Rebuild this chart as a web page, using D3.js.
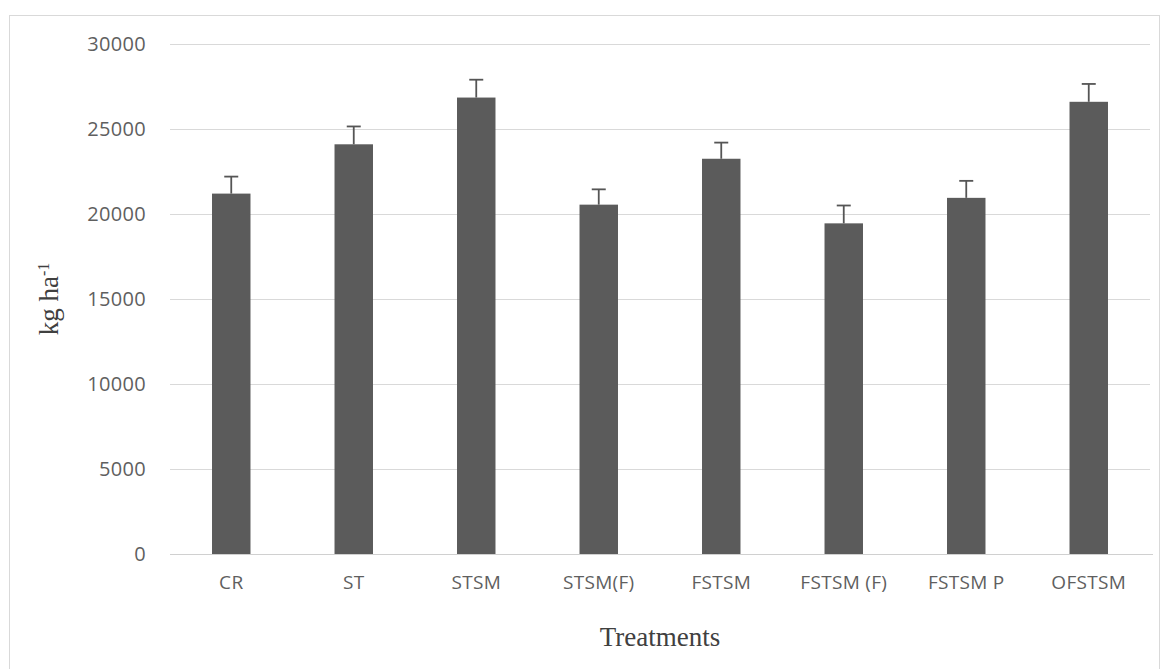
<!DOCTYPE html>
<html>
<head>
<meta charset="utf-8">
<script src="https://cdn.jsdelivr.net/npm/d3@7"></script>
<style>
  html, body { margin: 0; padding: 0; background: #fff; }
  svg { display: block; }
</style>
</head>
<body>
<svg id="chart" width="1167" height="669"></svg>
<script>
const categories = ["CR", "ST", "STSM", "STSM(F)", "FSTSM", "FSTSM (F)", "FSTSM P", "OFSTSM"];
const values = [21200, 24100, 26850, 20550, 23250, 19450, 20950, 26600];
const errors = [1000, 1050, 1050, 900, 950, 1050, 1000, 1050];
const yTicks = [0, 5000, 10000, 15000, 20000, 25000, 30000];
const yTitle = "kg ha";
const yTitleSup = "-1";
const xTitle = "Treatments";

const svg = d3.select("#chart");
const m = { left: 170, right: 1150, top: 44, bottom: 554 };

// outer chart border
svg.append("rect")
  .attr("x", 9.5).attr("y", 15.5)
  .attr("width", 1150).attr("height", 670)
  .attr("fill", "#fff").attr("stroke", "#d9d9d9").attr("stroke-width", 1);

const x = d3.scaleBand().domain(categories).range([m.left, m.right]).paddingInner(0.686).paddingOuter(0.343);
const y = d3.scaleLinear().domain([0, 30000]).range([m.bottom, m.top]);

// gridlines + y tick labels
const yAxis = d3.axisLeft(y).tickValues(yTicks).tickSize(-(m.right - m.left)).tickPadding(24).tickFormat(d3.format("d"));
const gy = svg.append("g").attr("transform", `translate(${m.left},0)`).call(yAxis);
gy.select(".domain").remove();
gy.selectAll(".tick line").attr("stroke", "#d9d9d9").attr("stroke-width", 1)
  .attr("shape-rendering", "crispEdges");
gy.selectAll(".tick text")
  .attr("fill", "#5f5f5f")
  .style("font-family", "'Open Sans', sans-serif")
  .style("font-size", "20px")
  .style("letter-spacing", "0.3px");

// bars
svg.append("g").selectAll("rect").data(values).join("rect")
  .attr("x", (d, i) => x(categories[i]))
  .attr("y", d => y(d))
  .attr("width", x.bandwidth())
  .attr("height", d => y(0) - y(d))
  .attr("fill", "#5b5b5b");

// error bars (upper only)
const eg = svg.append("g").attr("stroke", "#555").attr("stroke-width", 1.8);
values.forEach((v, i) => {
  const cx = x(categories[i]) + x.bandwidth() / 2;
  eg.append("line").attr("x1", cx).attr("x2", cx).attr("y1", y(v)).attr("y2", y(v + errors[i]));
  eg.append("line").attr("x1", cx - 7).attr("x2", cx + 7).attr("y1", y(v + errors[i])).attr("y2", y(v + errors[i]));
});

// x axis
const xAxis = d3.axisBottom(x).tickSize(0).tickPadding(22);
const gx = svg.append("g").attr("transform", `translate(0,${m.bottom})`).call(xAxis);
gx.select(".domain").attr("stroke", "#d0d0d0").attr("stroke-width", 1.2)
  .attr("d", `M${m.left},0.5H${m.right + 3}`);
gx.selectAll(".tick text")
  .attr("fill", "#5f5f5f")
  .style("font-family", "'Open Sans', sans-serif")
  .style("font-size", "19px")
  .style("letter-spacing", "0.3px");

// axis titles
svg.append("text")
  .attr("x", (m.left + m.right) / 2).attr("y", 646)
  .attr("text-anchor", "middle")
  .attr("fill", "#404040")
  .style("font-family", "'Liberation Serif', 'Times New Roman', serif")
  .style("font-size", "27px")
  .text(xTitle);

const yt = svg.append("text")
  .attr("transform", `translate(58,${(m.top + m.bottom) / 2}) rotate(-90)`)
  .attr("text-anchor", "middle")
  .attr("fill", "#404040")
  .style("font-family", "'Liberation Serif', 'Times New Roman', serif")
  .style("font-size", "27px");
yt.append("tspan").text(yTitle);
yt.append("tspan").attr("dy", -9).style("font-size", "16px").text(yTitleSup);
</script>
</body>
</html>
